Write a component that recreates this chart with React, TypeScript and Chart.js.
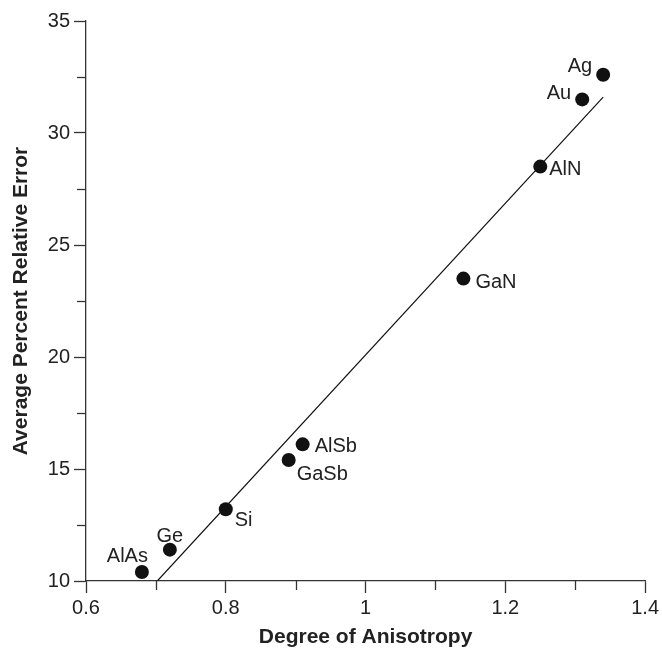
import React, { useEffect, useRef } from 'react';
import { Chart, registerables } from 'chart.js';

Chart.register(...registerables);

// ---- data ----
const materials = ['AlAs', 'Ge', 'Si', 'GaSb', 'AlSb', 'GaN', 'AlN', 'Au', 'Ag'];
const anisotropy = [0.68, 0.72, 0.8, 0.89, 0.91, 1.14, 1.25, 1.31, 1.34];
const avgError = [10.4, 11.4, 13.2, 15.4, 16.1, 23.5, 28.5, 31.5, 32.6];
const fitX = [0.702, 1.34];
const fitY = [10, 31.6];
const xTickLabels = ['0.6', '0.8', '1', '1.2', '1.4'];
const yTickLabels = ['10', '15', '20', '25', '30', '35'];

// ---- label placement (pixel offsets from each point, styling only) ----
const labelDx = [6, 0, 9, 8, 12, 12, 9, -11, -11];
const labelDy = [-10, -8, 17, 20, 8, 9, 8, 0, -3];
const labelAlign: CanvasTextAlign[] = ['right', 'center', 'left', 'left', 'left', 'left', 'left', 'right', 'right'];

const FONT = '"Liberation Sans", Arial, Helvetica, sans-serif';
const AXIS_COLOR = '#333';
const TEXT_COLOR = '#222';

const pointLabels = {
  id: 'pointLabels',
  afterDatasetsDraw(chart: any) {
    const meta = chart.getDatasetMeta(0);
    const ctx = chart.ctx;
    ctx.save();
    ctx.font = `20px ${FONT}`;
    ctx.fillStyle = TEXT_COLOR;
    ctx.textBaseline = 'alphabetic';
    meta.data.forEach((el: any, i: number) => {
      ctx.textAlign = labelAlign[i];
      ctx.fillText(materials[i], el.x + labelDx[i], el.y + labelDy[i]);
    });
    ctx.restore();
  },
};

const minorTicks = {
  id: 'minorTicks',
  afterDraw(chart: any) {
    const ctx = chart.ctx;
    ctx.save();
    ctx.strokeStyle = AXIS_COLOR;
    ctx.lineWidth = 1.3;
    const xs = chart.scales.x;
    const ys = chart.scales.y;
    const len = 9;
    for (let i = 0; i < xs.ticks.length - 1; i++) {
      const v = (xs.ticks[i].value + xs.ticks[i + 1].value) / 2;
      const px = Math.round(xs.getPixelForValue(v)) + 0.5;
      ctx.beginPath();
      ctx.moveTo(px, chart.chartArea.bottom);
      ctx.lineTo(px, chart.chartArea.bottom + len);
      ctx.stroke();
    }
    for (let i = 0; i < ys.ticks.length - 1; i++) {
      const v = (ys.ticks[i].value + ys.ticks[i + 1].value) / 2;
      const py = Math.round(ys.getPixelForValue(v)) + 0.5;
      ctx.beginPath();
      ctx.moveTo(chart.chartArea.left, py);
      ctx.lineTo(chart.chartArea.left - len, py);
      ctx.stroke();
    }
    ctx.restore();
  },
};

export default function App() {
  const ref = useRef<HTMLCanvasElement | null>(null);

  useEffect(() => {
    if (!ref.current) return;
    const chart = new Chart(ref.current, {
      type: 'scatter',
      data: {
        datasets: [
          {
            label: 'Materials',
            data: anisotropy.map((x, i) => ({ x, y: avgError[i] })),
            pointRadius: 7,
            pointHoverRadius: 7,
            pointBackgroundColor: '#111',
            pointBorderColor: '#111',
            pointBorderWidth: 0,
            order: 0,
          },
          {
            type: 'line',
            label: 'Fit',
            data: fitX.map((x, i) => ({ x, y: fitY[i] })),
            borderColor: '#111',
            borderWidth: 1.2,
            pointRadius: 0,
            fill: false,
            order: 1,
          } as any,
        ],
      },
      options: {
        responsive: false,
        animation: false,
        devicePixelRatio: 1,
        layout: { padding: { top: 21, right: 16, left: 0, bottom: 0 } },
        plugins: {
          legend: { display: false },
          tooltip: { enabled: false },
        },
        scales: {
          x: {
            type: 'linear',
            min: 0.6,
            max: 1.4,
            afterFit: (s: any) => {
              s.height = 69;
            },
            border: { display: true, color: AXIS_COLOR, width: 1.3 },
            grid: {
              drawOnChartArea: false,
              drawTicks: true,
              tickLength: 12,
              tickColor: AXIS_COLOR,
              tickWidth: 1.3,
            },
            ticks: {
              stepSize: 0.2,
              autoSkip: false,
              maxRotation: 0,
              padding: 3,
              color: TEXT_COLOR,
              font: { family: FONT, size: 20 },
              callback: (_v: any, i: number) => xTickLabels[i] ?? '',
            },
            title: {
              display: true,
              text: 'Degree of Anisotropy',
              color: TEXT_COLOR,
              font: { family: FONT, size: 21, weight: 'bold' },
              padding: { top: 0, bottom: 0 },
            },
          },
          y: {
            type: 'linear',
            min: 10,
            max: 35,
            afterFit: (s: any) => {
              s.width = 86;
            },
            border: { display: true, color: AXIS_COLOR, width: 1.3 },
            grid: {
              drawOnChartArea: false,
              drawTicks: true,
              tickLength: 12,
              tickColor: AXIS_COLOR,
              tickWidth: 1.3,
            },
            ticks: {
              stepSize: 5,
              autoSkip: false,
              padding: 4,
              color: TEXT_COLOR,
              font: { family: FONT, size: 20 },
              callback: (_v: any, i: number) => yTickLabels[i] ?? '',
            },
            title: {
              display: true,
              text: 'Average Percent Relative Error',
              color: TEXT_COLOR,
              font: { family: FONT, size: 21, weight: 'bold' },
              padding: { top: 9, bottom: 0 },
            },
          },
        },
      },
      plugins: [pointLabels, minorTicks],
    });
    return () => chart.destroy();
  }, []);

  return (
    <div style={{ position: 'absolute', left: 0, top: 0, width: 662, height: 650, background: '#fff' }}>
      <canvas ref={ref} width={662} height={650} style={{ display: 'block' }} />
    </div>
  );
}
